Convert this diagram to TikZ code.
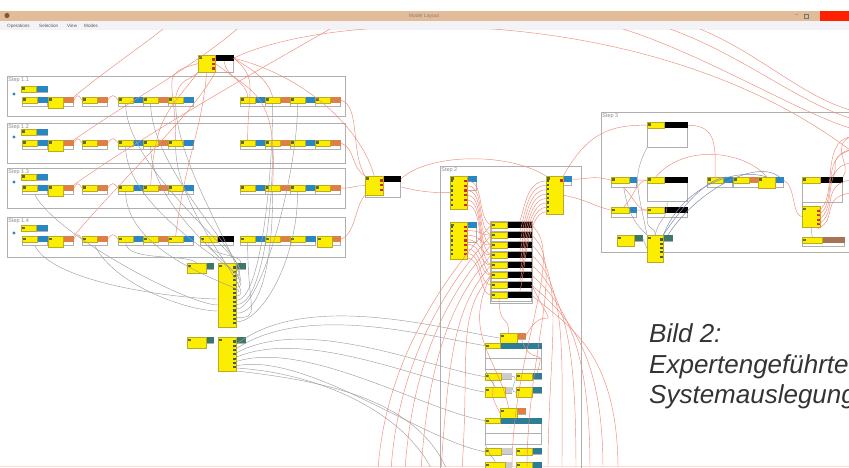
\documentclass[tikz,border=0pt]{standalone}
\usepackage{fontspec}
\setmainfont{Liberation Sans}
\usepackage{tikz}
\usetikzlibrary{positioning, calc}
\definecolor{celly}{RGB}{252,238,0}
\definecolor{celledge}{RGB}{190,170,30}
\definecolor{tagb}{RGB}{40,135,195}
\definecolor{tago}{RGB}{222,128,70}
\definecolor{tagt}{RGB}{60,120,105}
\definecolor{tagtb}{RGB}{45,125,150}
\definecolor{tagbr}{RGB}{165,115,85}
\definecolor{tagg}{RGB}{205,205,205}
\definecolor{framec}{RGB}{175,175,175}
\definecolor{redwire}{RGB}{238,138,118}
\definecolor{graywire}{RGB}{158,158,166}
\definecolor{bluewire}{RGB}{125,140,180}
\definecolor{titlec}{RGB}{226,188,152}
\definecolor{menuc}{RGB}{243,243,247}
\definecolor{iconc}{RGB}{90,110,40}
\definecolor{portr}{RGB}{200,45,25}
\definecolor{portg}{RGB}{70,95,45}

\tikzset{
  yel/.style={draw=celledge, line width=0.3pt, fill=celly, inner sep=0pt, anchor=north west},
  tagcell/.style={inner sep=0pt, minimum height=6pt, anchor=north west},
  wbox/.style={draw=framec, line width=0.5pt, fill=white, inner sep=0pt, anchor=north west},
  stepframe/.style={draw=framec, line width=0.7pt, inner sep=0pt, anchor=north west},
  steplabel/.style={font=\fontsize{5.5}{6}\selectfont, text=black!45, inner sep=1.2pt, anchor=north west},
  menutext/.style={font=\fontsize{4.6}{5}\selectfont, text=black!65, inner sep=0pt, anchor=west},
  rw/.style={draw=redwire, line width=0.45pt},
  gw/.style={draw=graywire, line width=0.45pt},
  bw/.style={draw=bluewire, line width=0.5pt},
  caption/.style={font=\fontsize{26}{30}\selectfont\itshape, text=black!80, inner sep=0pt, anchor=base west},
}

% name, x, y, cell w, cell h, tag colour, tag w, box h below tag
\newcommand{\modblk}[8]{%
  \pgfmathsetmacro\blkw{#4+#7}\pgfmathsetmacro\blkh{6+#8}%
  \node[wbox, minimum width=\blkw pt, minimum height=\blkh pt] (box-#1) at (#2,#3) {};
  \node[yel, minimum width=#4pt, minimum height=#5pt] (#1) at (#2,#3) {};
  \node[tagcell, fill=#6, minimum width=#7pt] (tag-#1) at (#1.north east) {};
  \fill[iconc] ($(#1.north west)+(1.2,1.5)$) rectangle +(2.4,2.4);
}
% node, anchor side, x offset, count, colour, step
\newcommand{\ports}[6]{%
  \foreach \k in {1,...,#4}
    {\fill[#5] ($(#1.north #2)+(#3,#6*\k-1)$) rectangle +(2.2,2.2);}
}

\begin{document}
\begin{tikzpicture}[x=1pt, y=-1pt]
  \useasboundingbox (0,0) rectangle (849,468);
  % window
  \fill[titlec] (0,11) rectangle (849,21);
  \fill[menuc] (0,21) rectangle (849,30);
  \fill[brown!70!black] (7,15.5) circle (2.6);
  \node[font=\fontsize{5}{6}\selectfont, text=black!50] (wintitle) at (424,16) {Model Layout};
  \foreach \x/\m in {7/Operations, 39/Selection, 67/View, 84/Modes}
    \node[menutext] (menu-\m) at (\x,26) {\m};
  \node[font=\fontsize{5}{6}\selectfont, text=black!60, inner sep=0pt] (winmin) at (797,16) {--};
  \draw[black!55, line width=0.4pt] (804,14) rectangle (808,18);
  \fill[red!75!orange] (820,11) rectangle (849,21);
  \draw[red!15] (0,466) -- (849,466);

  % step 1.x rows
  \foreach \row/\ry/\fy/\lab in {1/97/76/1.1, 2/140/123/1.2, 3/185/168/1.3, 4/236/217/1.4} {
    \node[stepframe, minimum width=338pt, minimum height=40pt] (step\row) at (7,\fy) {};
    \node[steplabel] (lab\row) at (step\row.north west) {Step \lab};
    \fill[tagb] (14,\ry-3) circle (1.7);
    \modblk{r\row-0}{21}{\ry-11}{15}{6}{tagb}{11}{0}
    \modblk{r\row-1}{22}{\ry}{15}{6}{tagb}{10}{3}
    \modblk{r\row-2}{48}{\ry}{15}{11}{tago}{10}{3}
    \foreach \i/\bx/\col in {3/82/tago, 4/118/tagb, 5/143/tago, 6/168/tagb, 7/240/tagb, 8/265/tago, 9/290/tagb}
      {\modblk{r\row-\i}{\bx}{\ry}{15}{6}{\col}{10}{3}}
  }
  \foreach \row/\ry in {1/97, 2/140, 3/185}
    {\modblk{r\row-10}{315}{\ry}{15}{6}{tago}{10}{3}}
  \modblk{r4-10}{317}{236}{15}{11}{tago}{8}{3}
  \modblk{r4-k}{200}{236}{17}{6}{black}{16}{3}

  % free nodes
  \modblk{top}{198}{55}{17}{17}{black}{18}{11}
  \ports{top}{east}{-3}{3}{portr}{4.5}
  \modblk{mid}{365}{176}{18}{19}{black}{17}{15}
  \ports{mid}{east}{-3}{3}{portr}{4.5}
  \modblk{la1}{187}{263}{19}{10}{tagt}{7}{0}
  \modblk{la2}{218}{263}{18}{64}{tagt}{9}{0}
  \ports{la2}{east}{-3}{14}{portg}{4.3}
  \modblk{lb1}{187}{337}{19}{11}{tagt}{7}{0}
  \modblk{lb2}{218}{337}{18}{34}{tagt}{9}{0}
  \ports{lb2}{east}{-3}{7}{portg}{4.3}

  % step 2
  \node[stepframe, minimum width=141pt, minimum height=320pt] (stepB) at (440,166) {};
  \node[steplabel] (labB) at (stepB.north west) {Step 2};
  \modblk{sa}{450}{176}{17}{33}{tagb}{9}{8}
  \ports{sa}{west}{0.6}{6}{portg}{4.8}
  \ports{sa}{east}{-3}{6}{portr}{4.8}
  \modblk{sb}{450}{222}{17}{37}{tagb}{9}{14}
  \ports{sb}{west}{0.6}{7}{portg}{4.6}
  \ports{sb}{east}{-3}{7}{portr}{4.6}
  \modblk{sc}{546}{176}{17}{38}{tagb}{8}{3}
  \ports{sc}{west}{0.6}{8}{portg}{4.4}
  \ports{sc}{east}{-3}{1}{portr}{4.4}
  \node[wbox, minimum width=42pt, minimum height=82pt] (stack) at (490,221) {};
  \foreach \k in {0,...,7}
    {\modblk{st\k}{491}{222+10*\k}{16}{6}{black}{24}{3}}
  \foreach \o/\n in {0/a, 75/b} {
    \modblk{p\n}{500}{333+\o}{17}{10}{tago}{8}{0}
    \modblk{q\n1}{485}{343+\o}{15}{5}{tagtb}{41}{20}
    \draw[framec, line width=0.4pt] ($(box-q\n1.north west)+(0,15)$) -- ($(box-q\n1.north east)+(0,15)$);
    \modblk{q\n2}{485}{373+\o}{16}{7}{tagg}{10}{0}
    \modblk{q\n3}{516}{373+\o}{16}{7}{tagtb}{9}{0}
    \modblk{q\n4}{485}{387+\o}{20}{10}{tagg}{6}{0}
    \modblk{q\n5}{516}{387+\o}{16}{10}{tagtb}{9}{0}
  }

  % step 3
  \node[stepframe, minimum width=260pt, minimum height=140pt] (stepC) at (601,112) {};
  \node[steplabel] (labC) at (stepC.north west) {Step 3};
  \modblk{s1}{647}{122}{17}{6}{black}{23}{19}
  \modblk{s2}{611}{177}{18}{6}{tagb}{7}{4}
  \modblk{s3}{647}{177}{17}{6}{black}{23}{18}
  \modblk{s4}{611}{207}{18}{6}{tagb}{7}{4}
  \modblk{s5}{647}{207}{17}{6}{black}{23}{4}
  \modblk{s6}{707}{177}{16}{6}{tagb}{9}{4}
  \modblk{s7}{733}{177}{16}{6}{tago}{9}{4}
  \modblk{s8}{758}{177}{17}{11}{tagb}{8}{4}
  \modblk{s9}{802}{177}{18}{6}{black}{22}{19}
  \modblk{s10}{802}{206}{18}{21}{celly}{0}{0}
  \ports{s10}{east}{-3}{4}{portr}{4.5}
  \modblk{s11}{802}{237}{20}{6}{tagbr}{22}{3}
  \modblk{s12}{617}{235}{17}{11}{tagt}{8}{0}
  \modblk{s13}{647}{235}{16}{27}{tagt}{9}{0}
  \ports{s13}{east}{-3}{5}{portg}{4.3}

  % wires
  \begin{scope}
    \clip (0,30) rectangle (849,466);
    \coordinate (n1) at (163,29);
    \coordinate (n2) at (237,29);
    \coordinate (n3) at (330,29);
    \coordinate (n4) at (623,29);
    \coordinate (n5) at (670,29);
    \coordinate (n6) at (700,29);
    \coordinate (e1) at (850,150);
    % long red lines to the top
    \draw[rw] (tag-r1-2.north east) .. controls +(30,-25) and +(-25,20) .. (n1);
    \draw[rw] (tag-r2-2.north east) .. controls +(50,-35) and +(-40,35) .. (n2);
    \draw[rw] (tag-r3-2.north east) .. controls +(70,-50) and +(-70,40) .. (n3);
    \draw[rw] (tag-r4-2.north east) .. controls +(60,-70) and +(-25,45) .. (top.south east);
    \draw[rw] (tag-top.east) .. controls +(97,-48) and +(-200,-150) .. (e1);
    \foreach \n/\ey/\a in {n4/128/80, n5/118/70, n6/110/60} {
      \coordinate (e-\n) at (850,\ey);
      \draw[rw] (\n) .. controls +(\a,25) and +(-50,-15) .. (e-\n);
    }
    % top node
    \draw[rw] (top.south west) .. controls +(-10,10) and +(5,-20) .. (r1-6.north);
    \draw[rw] (top.west) .. controls +(-40,10) and +(0,-60) .. (r2-6.north);
    \draw[rw] (top.south west) .. controls +(-30,40) and +(5,-70) .. (r3-5.north);
    \draw[rw] (top.south) .. controls +(-5,60) and +(10,-80) .. (r4-6.north);
    \draw[rw] (tag-top.south) .. controls +(0,15) and +(0,-15) .. (r1-7.north);
    \draw[rw] (tag-top.east) .. controls +(25,20) and +(0,-50) .. (r2-7.north);
    \draw[rw] (tag-top.east) .. controls +(15,10) and +(-5,-20) .. (r1-8.north);
    \draw[rw] (top.east) .. controls +(40,30) and +(5,-90) .. (r3-8.north);
    \draw[rw] (tag-top.east) .. controls +(80,20) and +(-10,-40) .. (mid.north);
    % along the rows
    \foreach \row in {1,...,4} {
      \draw[rw] (tag-r\row-2.east) .. controls +(4,-6) and +(-4,-6) .. (r\row-3.west);
      \draw[rw] (tag-r\row-3.east) .. controls +(4,-6) and +(-4,-6) .. (r\row-4.west);
    }
    \draw[rw] (tag-r1-10.east) .. controls +(20,5) and +(-15,-25) .. (mid.north west);
    \draw[rw] (tag-r2-10.east) .. controls +(15,5) and +(-15,-10) .. (mid.north west);
    \draw[rw] (tag-r3-10.east) .. controls +(12,0) and +(-12,0) .. (mid.west);
    \draw[rw] (tag-r4-10.east) .. controls +(15,-5) and +(-10,10) .. (mid.south west);
    \draw[rw] (tag-mid.east) .. controls +(25,-25) and +(-40,-25) .. (sc.north west);
    \draw[rw] (box-mid.east) .. controls +(20,5) and +(-20,0) .. (sa.west);
    % rows to the left column node
    \foreach \src/\k in {r1-4/1, r1-5/2, r2-4/3, r2-5/4, r1-6/5, r3-4/6, r2-6/7, r1-8/8, r2-8/9, r1-9/10, r3-8/11, r4-7/12, r3-9/13}
      {\draw[gw] (\src.south) .. controls +(0,70) and +(25,0) .. ($(la2.north east)+(0,3+4.3*\k)$);}
    \foreach \src/\k in {r4-1/1, r3-1/2, r4-3/3}
      {\draw[gw] (box-\src.south) .. controls +(20,40) and +(-30,0) .. ($(la2.north west)+(0,30+6*\k)$);}
    \draw[gw] (r4-4.south) .. controls +(0,20) and +(-10,-10) .. (la1.north);
    \draw[gw] (r4-k.south) .. controls +(0,15) and +(0,-10) .. (tag-la2.north);
    % lower column node fan
    \foreach \k/\tgt in {1/pa, 2/qa1, 3/qa2, 4/qa4, 5/qb1, 6/qb2}
      {\draw[gw] ($(lb2.north east)+(0,3+4.3*\k)$) .. controls +(70,-62+8*\k) and +(-60,-10) .. (\tgt.west);}
    \coordinate (g1) at (432,470);
    \coordinate (g2) at (447,470);
    \draw[gw] ($(lb2.north east)+(0,31)$) .. controls +(80,5) and +(-30,-60) .. (g1);
    \draw[gw] ($(lb2.north east)+(0,34)$) .. controls +(90,10) and +(-30,-70) .. (g2);
    % step 2
    \foreach \k in {0,...,5}
      {\draw[rw] ($(sa.north east)+(0,5+4.8*\k)$) .. controls +(18,0) and +(-15,-8) .. (st\k.west);}
    \foreach \k in {1,...,7}
      {\draw[rw] ($(sb.north east)+(0,4+4.6*\k)$) .. controls +(15,0) and +(-12,0) .. (st\k.west);}
    \foreach \k in {0,...,7}
      {\draw[rw] ($(sc.north west)+(0,5+4.4*\k)$) .. controls +(-20,0) and +(5,-12) .. (tag-st\k.north);}
    \foreach \k/\bx in {0/378, 1/391, 2/405, 3/421, 4/441, 5/462} {
      \coordinate (bl\k) at (\bx,470);
      \draw[rw] (st\k.west) .. controls +(-35,40) and +(8,-120) .. (bl\k);
    }
    \foreach \k/\bx in {0/512, 1/527, 2/548, 3/562, 4/576, 5/590, 6/603, 7/618} {
      \coordinate (br\k) at (\bx,470);
      \draw[rw] (tag-st\k.east) .. controls +(35,30) and +(0,-120) .. (br\k);
    }
    \draw[rw] (st7.south) .. controls +(0,30) and +(0,-20) .. (pa.north);
    \draw[rw] (tag-st6.east) .. controls +(30,60) and +(20,-40) .. (tag-pa.east);
    \draw[rw] (st5.west) .. controls +(-30,60) and +(-10,-50) .. (pb.north);
    \draw[rw] (tag-pa.south) .. controls +(10,30) and +(10,-30) .. (tag-qa3.north);
    \draw[rw] (qa2.south) .. controls +(0,20) and +(-10,-20) .. (pb.west);
    \draw[gw] (box-qa1.south west) .. controls +(10,20) and +(-5,-10) .. (qa4.north);
    \draw[gw] (tag-qa2.east) .. controls +(10,0) and +(-10,0) .. (qa5.west);
    \draw[gw] (box-qb1.south west) .. controls +(10,20) and +(-5,-10) .. (qb4.north);
    % step 3
    \draw[rw] (sc.north east) .. controls +(25,-45) and +(-35,0) .. (s1.west);
    \draw[rw] (tag-sc.east) .. controls +(20,0) and +(-20,-5) .. (s2.west);
    \draw[rw] (sc.east) .. controls +(25,5) and +(-20,-5) .. (s4.west);
    \draw[rw] (tag-s1.east) .. controls +(30,0) and +(0,-30) .. (s6.north);
    \draw[rw] (s3.north) .. controls +(30,-35) and +(-20,-25) .. (s8.north);
    \draw[rw] (tag-s2.east) -- (s3.west);
    \draw[rw] (tag-s4.east) -- (s5.west);
    \draw[rw] (box-s2.south) .. controls +(10,10) and +(-10,0) .. (s5.west);
    \draw[rw] (box-s4.north) .. controls +(10,-10) and +(-10,0) .. (s3.west);
    \draw[rw] (tag-s6.east) -- (s7.west);
    \draw[rw] (tag-s7.east) -- (s8.west);
    \draw[rw] (tag-s8.east) .. controls +(12,5) and +(-10,0) .. (s10.west);
    \foreach \k/\ey in {1/137, 2/150, 3/163, 4/180, 5/193} {
      \coordinate (f\k) at (850,\ey);
      \draw[rw] (f\k) .. controls +(-30,5) and +(20,-10) .. ($(s10.north east)+(-2,4.5*\k)$);
    }
    \draw[rw] (f1) .. controls +(-20,10) and +(10,-10) .. (tag-s9.north east);
    \draw[rw] (f2) .. controls +(-25,10) and +(10,-10) .. (tag-s9.north);
    \draw[gw] (box-s1.south west) .. controls +(-15,30) and +(-10,-50) .. (s13.north west);
    \draw[gw] (box-s3.south) .. controls +(0,20) and +(5,-20) .. (s13.north);
    \draw[gw] (box-s5.south west) .. controls +(0,15) and +(0,-10) .. (s13.north);
    \draw[gw] (box-s2.south) .. controls +(5,30) and +(-10,-10) .. (s13.north west);
    \draw[bw] (tag-s8.north) .. controls +(-25,-20) and +(25,-40) .. (tag-s13.north);
    \draw[bw] (s8.north) .. controls +(-30,-10) and +(20,-50) .. (tag-s13.north west);
    \draw[bw] (tag-s6.north) .. controls +(-20,0) and +(20,-30) .. (s13.north east);
    \draw[gw] (box-s9.south west) -- (s10.north west);
    \draw[gw] (s10.south) -- (s11.north);
    \draw[gw] (tag-s12.east) -- (s13.west);
  \end{scope}

  % caption
  \node[caption] (cap1) at (649,342) {Bild 2:};
  \node[caption] (cap2) at (649,373) {Expertengeführte};
  \node[caption] (cap3) at (649,403) {Systemauslegung};
\end{tikzpicture}
\end{document}
